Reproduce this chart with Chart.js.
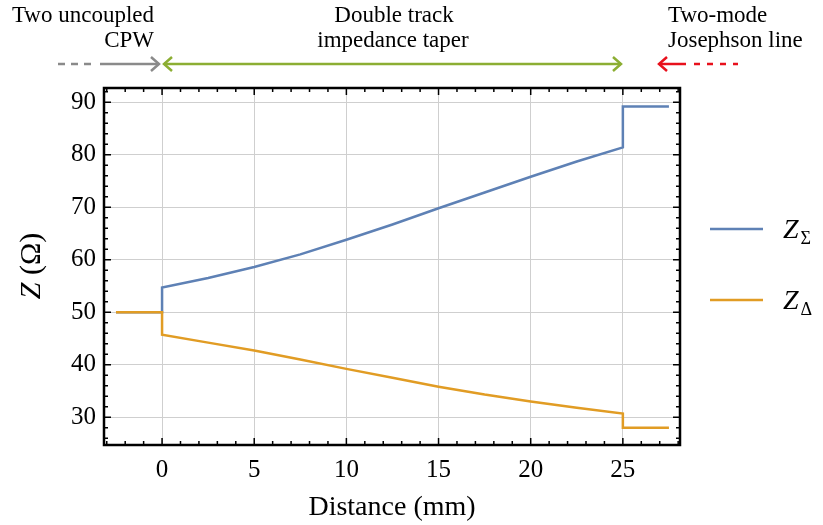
<!DOCTYPE html>
<html>
<head>
<meta charset="utf-8">
<script src="https://cdn.jsdelivr.net/npm/chart.js@4.4.1/dist/chart.umd.min.js"></script>
<style>
html, body { margin: 0; padding: 0; background: #fff; }
</style>
</head>
<body>
<canvas id="zChart" width="823" height="525"></canvas>
<script>
// valeurs (mm, ohm)
const distanceMm = [-2.5, 0, 0, 2.5, 5, 7.5, 10, 12.5, 15, 17.5, 20, 22.5, 25, 25, 27.5];
const zSigma = [50, 50, 54.7, 56.5, 58.6, 61.0, 63.8, 66.7, 69.8, 72.8, 75.8, 78.7, 81.4, 89.2, 89.2];
const zDelta = [50, 50, 45.7, 44.2, 42.7, 41.0, 39.2, 37.5, 35.8, 34.3, 33.0, 31.8, 30.7, 28.0, 28.0];

const xTicks = [0, 5, 10, 15, 20, 25];
const yTicks = [30, 40, 50, 60, 70, 80, 90];

const serif = "'Liberation Serif', 'DejaVu Serif', serif";
const bleu = '#5e81b5';
const orange = '#e19c24';

function versPoints(ys) {
    return distanceMm.map((x, i) => ({ x: x, y: ys[i] }));
}

// flèche ouverte (chevron)
function pointe(ctx, x, y, dir, couleur) {
    ctx.save();
    ctx.strokeStyle = couleur;
    ctx.lineWidth = 2.5;
    ctx.beginPath();
    ctx.moveTo(x - dir * 8, y - 7);
    ctx.lineTo(x, y);
    ctx.lineTo(x - dir * 8, y + 7);
    ctx.stroke();
    ctx.restore();
}

function segment(ctx, x1, x2, y, couleur, dash) {
    ctx.save();
    ctx.strokeStyle = couleur;
    ctx.lineWidth = 2.5;
    ctx.setLineDash(dash || []);
    ctx.beginPath();
    ctx.moveTo(x1, y);
    ctx.lineTo(x2, y);
    ctx.stroke();
    ctx.restore();
}

const cadrePlugin = {
    id: 'cadre',
    afterDraw(chart) {
        const ctx = chart.ctx;
        const a = chart.chartArea;
        const sx = chart.scales.x;
        const sy = chart.scales.y;

        ctx.save();
        // graduations vers l'intérieur, sur les quatre côtés
        ctx.strokeStyle = '#000';
        ctx.lineWidth = 1.5;
        ctx.beginPath();
        for (let v = -3; v <= 28; v++) {
            const px = sx.getPixelForValue(v);
            const len = v % 5 === 0 ? 7 : 4;
            ctx.moveTo(px, a.bottom); ctx.lineTo(px, a.bottom - len);
            ctx.moveTo(px, a.top); ctx.lineTo(px, a.top + len);
        }
        for (let v = 26; v <= 92; v += 2) {
            const py = sy.getPixelForValue(v);
            const len = v % 10 === 0 ? 7 : 4;
            ctx.moveTo(a.left, py); ctx.lineTo(a.left + len, py);
            ctx.moveTo(a.right, py); ctx.lineTo(a.right - len, py);
        }
        ctx.stroke();

        ctx.lineWidth = 2.5;
        ctx.strokeRect(a.left, a.top, a.right - a.left, a.bottom - a.top);

        // titre de l'axe y : Z (Ω)
        ctx.translate(32, 266);
        ctx.rotate(-Math.PI / 2);
        ctx.fillStyle = '#000';
        ctx.textBaseline = 'middle';
        ctx.font = 'italic 30px ' + serif;
        const wZ = ctx.measureText('Z').width;
        ctx.font = '30px ' + serif;
        const wR = ctx.measureText(' (Ω)').width;
        let x0 = -(wZ + wR) / 2;
        ctx.textAlign = 'left';
        ctx.font = 'italic 30px ' + serif;
        ctx.fillText('Z', x0, 0);
        ctx.font = '30px ' + serif;
        ctx.fillText(' (Ω)', x0 + wZ, 0);
        ctx.restore();

        // légende
        ctx.save();
        ctx.lineWidth = 2.5;
        [[bleu, 229, 'Σ'], [orange, 300, 'Δ']].forEach(([c, y, sub]) => {
            ctx.strokeStyle = c;
            ctx.beginPath();
            ctx.moveTo(710, y); ctx.lineTo(763, y);
            ctx.stroke();
            ctx.fillStyle = '#000';
            ctx.textBaseline = 'alphabetic';
            ctx.textAlign = 'left';
            ctx.font = 'italic 28px ' + serif;
            ctx.fillText('Z', 783, y + 9);
            const w = ctx.measureText('Z').width;
            ctx.font = '18px ' + serif;
            ctx.fillText(sub, 785 + w, y + 15);
        });
        ctx.restore();

        // annotations du haut
        ctx.save();
        ctx.fillStyle = '#000';
        ctx.font = '23px ' + serif;
        ctx.textBaseline = 'middle';
        ctx.textAlign = 'right';
        ctx.fillText('Two uncoupled', 154, 16);
        ctx.fillText('CPW', 154, 41);
        ctx.textAlign = 'center';
        ctx.fillText('Double track', 394, 16);
        ctx.fillText('impedance taper', 393, 41);
        ctx.textAlign = 'left';
        ctx.fillText('Two-mode', 668, 16);
        ctx.fillText('Josephson line', 668, 41);
        ctx.restore();

        const ya = 64;
        const gris = '#8a8a8a';
        const vert = '#8cae33';
        const rouge = '#e8101c';
        segment(ctx, 58, 93, ya, gris, [7, 6]);
        segment(ctx, 100, 159, ya, gris);
        pointe(ctx, 159, ya, 1, gris);
        segment(ctx, 164, 621, ya, vert);
        pointe(ctx, 164, ya, -1, vert);
        pointe(ctx, 621, ya, 1, vert);
        segment(ctx, 659, 686, ya, rouge);
        pointe(ctx, 659, ya, -1, rouge);
        segment(ctx, 694, 738, ya, rouge, [6, 7]);
    }
};

new Chart(document.getElementById('zChart'), {
    type: 'line',
    data: {
        datasets: [
            {
                label: 'Z_Σ',
                data: versPoints(zSigma),
                borderColor: bleu,
                borderWidth: 2.5,
                pointRadius: 0,
                tension: 0,
                order: 1
            },
            {
                label: 'Z_Δ',
                data: versPoints(zDelta),
                borderColor: orange,
                borderWidth: 2.5,
                pointRadius: 0,
                tension: 0,
                order: 0
            }
        ]
    },
    options: {
        responsive: false,
        animation: false,
        layout: { padding: { top: 88, right: 143, left: 0, bottom: 0 } },
        plugins: {
            legend: { display: false },
            tooltip: { enabled: false }
        },
        scales: {
            x: {
                type: 'linear',
                min: -3.15,
                max: 28.1,
                afterBuildTicks: s => { s.ticks = xTicks.map(v => ({ value: v })); },
                afterFit: s => { s.height = 80; },
                grid: { color: '#cfcfcf', lineWidth: 1, drawTicks: false },
                border: { display: false },
                ticks: {
                    color: '#000',
                    padding: 10,
                    maxRotation: 0,
                    font: { family: serif, size: 25 }
                },
                title: {
                    display: true,
                    text: 'Distance (mm)',
                    color: '#000',
                    padding: { top: 0, bottom: 1 },
                    font: { family: serif, size: 28 }
                }
            },
            y: {
                type: 'linear',
                min: 24.7,
                max: 92.7,
                afterBuildTicks: s => { s.ticks = yTicks.map(v => ({ value: v })); },
                afterFit: s => { s.width = 104; },
                grid: { color: '#cfcfcf', lineWidth: 1, drawTicks: false },
                border: { display: false },
                ticks: {
                    color: '#000',
                    padding: 8,
                    font: { family: serif, size: 25 }
                }
            }
        }
    },
    plugins: [cadrePlugin]
});
</script>
</body>
</html>
